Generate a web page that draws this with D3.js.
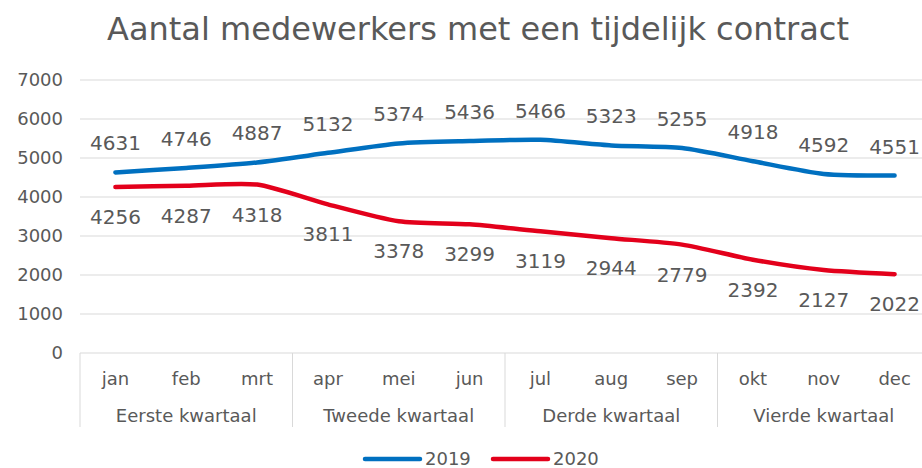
<!DOCTYPE html>
<html>
<head>
<meta charset="utf-8">
<script src="https://cdn.jsdelivr.net/npm/d3@7"></script>
<style>
  body { margin: 0; background: #fff; }
  text { font-family: "DejaVu Sans", Verdana, sans-serif; fill: #595959; }
</style>
</head>
<body>
<div id="container"></div>
<script>
const months = ["jan","feb","mrt","apr","mei","jun","jul","aug","sep","okt","nov","dec"];
const quarters = ["Eerste kwartaal","Tweede kwartaal","Derde kwartaal","Vierde kwartaal"];
const values2019 = [4631,4746,4887,5132,5374,5436,5466,5323,5255,4918,4592,4551];
const values2020 = [4256,4287,4318,3811,3378,3299,3119,2944,2779,2392,2127,2022];
const yTicks = [0,1000,2000,3000,4000,5000,6000,7000];
const seriesNames = ["2019","2020"];
const colors = ["#0070c0","#e3001b"];

const w = 922;
const h = 468;
const plotLeft = 80;
const plotRight = 930;
const plotTop = 80;
const plotBottom = 353;

const svg = d3.select("#container").append("svg")
  .attr("width", w)
  .attr("height", h);

const scalex = d3.scaleBand().domain(months).range([plotLeft, plotRight]);
const scaley = d3.scaleLinear().domain([0, 7000]).range([plotBottom, plotTop]);

// title
svg.append("text")
  .attr("x", 478).attr("y", 40)
  .attr("text-anchor", "middle")
  .style("font-size", "32px")
  .text("Aantal medewerkers met een tijdelijk contract");

// gridlines
svg.append("g").selectAll("line")
  .data(yTicks.filter(d => d > 0))
  .enter().append("line")
  .attr("x1", plotLeft).attr("x2", plotRight)
  .attr("y1", d => scaley(d)).attr("y2", d => scaley(d))
  .attr("stroke", "#d9d9d9").attr("stroke-width", 1);

// y axis labels
const axisy = d3.axisLeft(scaley).tickValues(yTicks).tickFormat(d3.format("d"))
  .tickSize(0).tickPadding(17);
const yAxisGroup = svg.append("g")
  .attr("transform", `translate(${plotLeft},0)`)
  .call(axisy);
yAxisGroup.select(".domain").remove();
yAxisGroup.selectAll("text").style("font-size", "18px").attr("fill", "#595959")
  .style("font-family", "DejaVu Sans");

// x axis box
const axisGroup = svg.append("g");
axisGroup.append("line")
  .attr("x1", plotLeft).attr("x2", plotRight)
  .attr("y1", plotBottom).attr("y2", plotBottom)
  .attr("stroke", "#d9d9d9");
const bounds = [0,3,6,9,12].map(i => i < 12 ? scalex(months[i]) : scalex(months[11]) + scalex.bandwidth());
axisGroup.selectAll(".sep").data(bounds).enter().append("line")
  .attr("x1", d => d).attr("x2", d => d)
  .attr("y1", plotBottom).attr("y2", 427)
  .attr("stroke", "#d9d9d9");

axisGroup.selectAll(".month").data(months).enter().append("text")
  .attr("x", d => scalex(d) + scalex.bandwidth() / 2)
  .attr("y", 385)
  .attr("text-anchor", "middle")
  .style("font-size", "18px")
  .text(d => d);

axisGroup.selectAll(".quarter").data(quarters).enter().append("text")
  .attr("x", (d, i) => (bounds[i] + bounds[i + 1]) / 2)
  .attr("y", 422)
  .attr("text-anchor", "middle")
  .style("font-size", "18px")
  .text(d => d);

// lines
const series = [values2019, values2020];
const line = d3.line()
  .x((d, i) => scalex(months[i]) + scalex.bandwidth() / 2)
  .y(d => scaley(d))
  .curve(d3.curveCardinal.tension(0.3));

series.forEach((vals, s) => {
  svg.append("path")
    .datum(vals)
    .attr("d", line)
    .attr("fill", "none")
    .attr("stroke", colors[s])
    .attr("stroke-width", 4.5)
    .attr("stroke-linecap", "round");
});

// data labels
series.forEach((vals, s) => {
  svg.append("g").selectAll("text").data(vals).enter().append("text")
    .attr("x", (d, i) => scalex(months[i]) + scalex.bandwidth() / 2)
    .attr("y", d => scaley(d) + (s === 0 ? -29 : 30))
    .attr("dy", "0.35em")
    .attr("text-anchor", "middle")
    .style("font-size", "20px")
    .text(d => d);
});

// legend
const legendX = [365, 493];
seriesNames.forEach((name, s) => {
  svg.append("line")
    .attr("x1", legendX[s]).attr("x2", legendX[s] + 55)
    .attr("y1", 459).attr("y2", 459)
    .attr("stroke", colors[s]).attr("stroke-width", 4.5)
    .attr("stroke-linecap", "round");
  svg.append("text")
    .attr("x", legendX[s] + 60).attr("y", 459)
    .attr("dy", "0.35em")
    .style("font-size", "18px")
    .text(name);
});
</script>
</body>
</html>
